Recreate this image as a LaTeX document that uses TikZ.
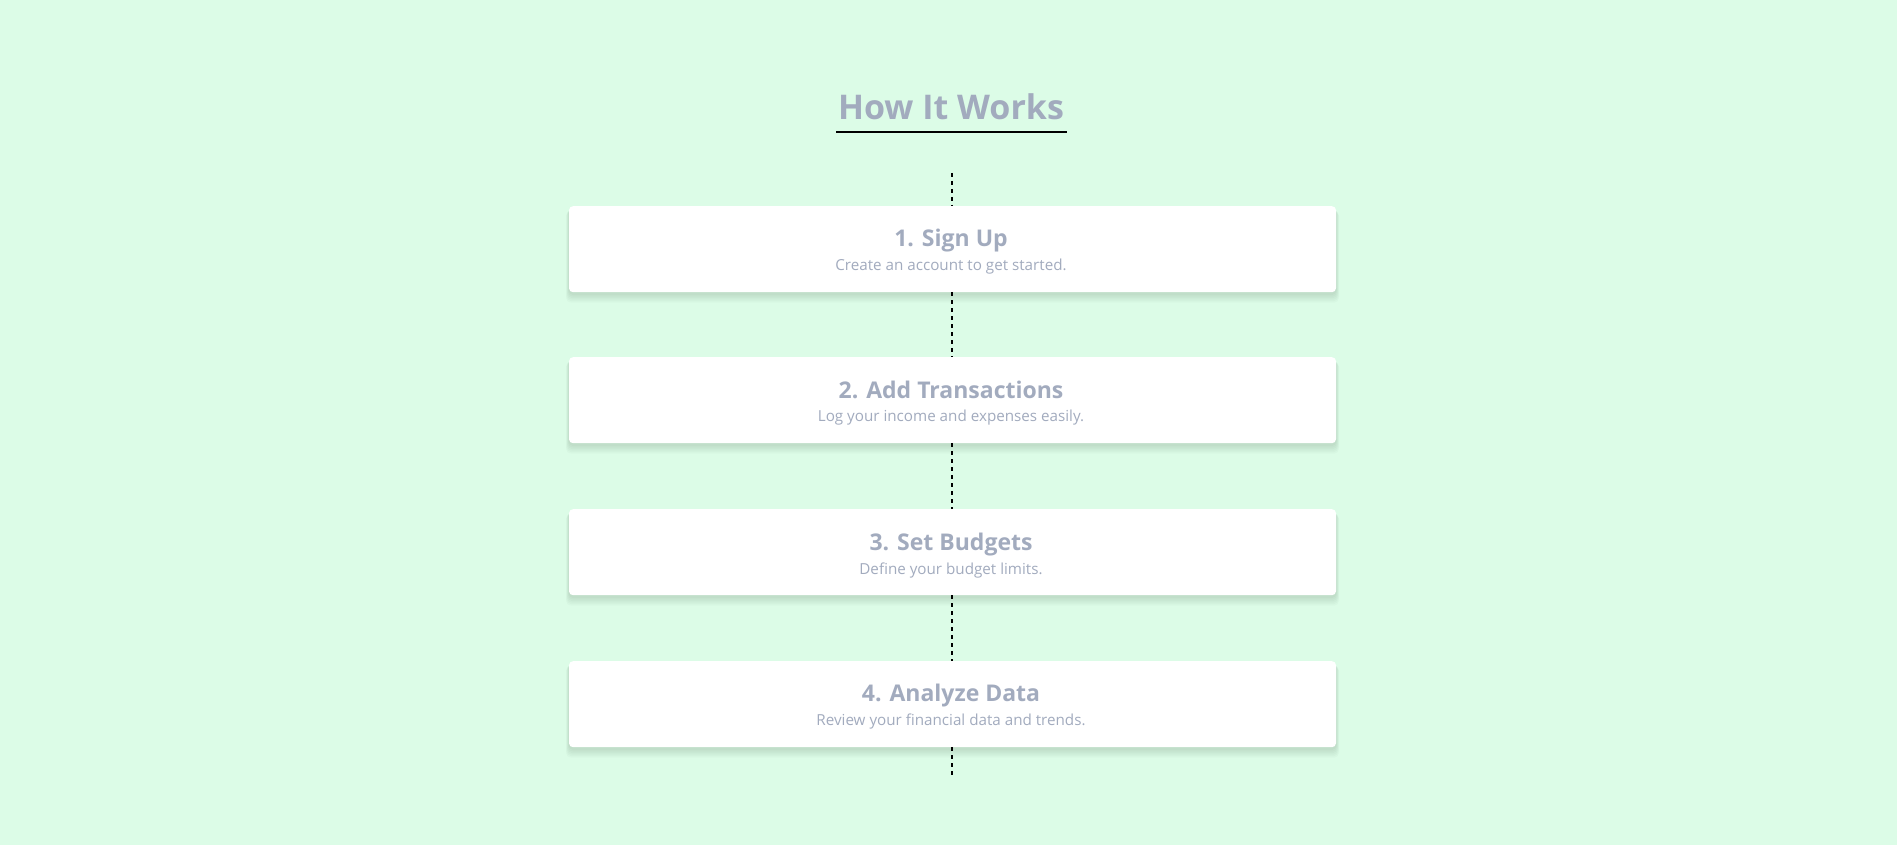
\documentclass[tikz,border=0pt]{standalone}
\usepackage{fontspec}
\setmainfont{Open Sans}
\usetikzlibrary{calc}
\definecolor{bg}{RGB}{220,252,231}
\definecolor{txt}{RGB}{162,171,190}
\begin{document}
\begin{tikzpicture}[x=1pt,y=-1pt,
  stepbox/.style={fill=white,rounded corners=4pt,minimum width=767pt,minimum height=86pt,inner sep=0pt,anchor=north},
  shadowbox/.style={fill=black,opacity=0.02,rounded corners=5pt,inner sep=0pt,anchor=north},
  steptitle/.style={text=txt,font=\fontsize{23}{26}\selectfont\bfseries,anchor=base},
  stepsub/.style={text=txt,font=\fontsize{15.2}{18}\selectfont,anchor=base},
  conn/.style={draw=black,line width=2pt,dash pattern=on 4pt off 4pt}]
\fill[bg] (0,0) rectangle (1897,845);
\useasboundingbox (0,0) rectangle (1897,845);
\node[text=txt,font=\fontsize{34}{40}\selectfont\bfseries,anchor=base,inner sep=0pt] (title) at (951,120) {How It Works};
\draw[line width=1.3pt] (836,132) -- (1067,132);
\coordinate (top) at (952,173);
\coordinate (bot) at (952,776);
% soft shadows
\foreach \y in {206,357,509,661}{
  \foreach \s in {1,2,3,4,5,6}{
    \node[shadowbox,minimum width=767pt+\s pt,minimum height=86pt+\s pt] at (952.5,\y+1.5+\s*0.5) {};
  }
}
\node[stepbox] (b1) at (952.5,206) {};
\node[stepbox] (b2) at (952.5,357) {};
\node[stepbox] (b3) at (952.5,509) {};
\node[stepbox] (b4) at (952.5,661) {};
\draw[conn] (top) -- (b1.north -| top);
\draw[conn] (b1.south -| top) -- (b2.north -| top);
\draw[conn] (b2.south -| top) -- (b3.north -| top);
\draw[conn] (b3.south -| top) -- (b4.north -| top);
\draw[conn] (b4.south -| top) -- (bot);
\node[steptitle] (t1) at (951,246) {1. Sign Up};
\node[stepsub] (s1) at (951,270) {Create an account to get started.};
\node[steptitle] (t2) at (951,398) {2. Add Transactions};
\node[stepsub] (s2) at (951,421) {Log your income and expenses easily.};
\node[steptitle] (t3) at (951,550) {3. Set Budgets};
\node[stepsub] (s3) at (951,574) {Define your budget limits.};
\node[steptitle] (t4) at (951,701) {4. Analyze Data};
\node[stepsub] (s4) at (951,725) {Review your financial data and trends.};
\end{tikzpicture}
\end{document}
